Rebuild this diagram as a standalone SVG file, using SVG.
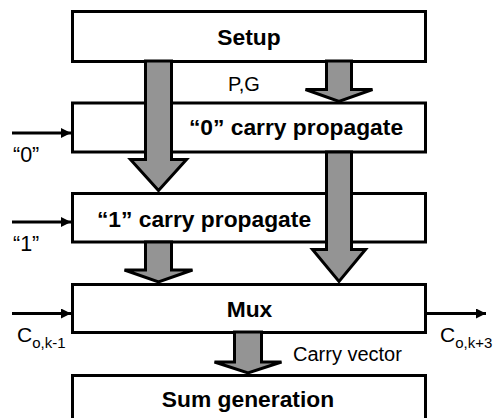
<svg xmlns="http://www.w3.org/2000/svg" width="494" height="418" viewBox="0 0 494 418">
<defs>
<style>
.box{fill:#fff;stroke:#000;stroke-width:3}
.blk{fill:#949494;stroke:#000;stroke-width:3;stroke-linejoin:miter}
.lbl{font-family:"Liberation Sans",Arial,sans-serif;font-weight:bold;font-size:22.8px;fill:#000}
.txt{font-family:"Liberation Sans",Arial,sans-serif;font-size:20px;fill:#000}
.q{font-size:21.5px}
.c{font-size:21px}
.sub{font-size:15px}
.wire{stroke:#000;stroke-width:3;fill:none}
</style>
<marker id="ah" viewBox="0 0 10 10" refX="10" refY="5" markerWidth="12" markerHeight="10" markerUnits="userSpaceOnUse" orient="auto">
<path d="M0,0 L10,5 L0,10 Z" fill="#000"/>
</marker>
</defs>
<rect width="494" height="418" fill="#fff"/>
<g id="setup">
<rect class="box" x="72.5" y="11.5" width="353" height="50"/>
<text class="lbl" x="249" y="45" text-anchor="middle">Setup</text>
</g>
<g id="carry0">
<rect class="box" x="72.5" y="103" width="353" height="49"/>
<text class="lbl" x="296" y="135" text-anchor="middle">“0” carry propagate</text>
</g>
<g id="carry1">
<rect class="box" x="72.5" y="193.5" width="353" height="48.5"/>
<text class="lbl" x="204" y="227" text-anchor="middle">“1” carry propagate</text>
</g>
<g id="mux">
<rect class="box" x="72.5" y="284.5" width="353" height="48"/>
<text class="lbl" x="249.5" y="317" text-anchor="middle">Mux</text>
</g>
<g id="sumgen">
<rect class="box" x="72.5" y="375.5" width="353" height="60"/>
<text class="lbl" x="248" y="407" text-anchor="middle">Sum generation</text>
</g>
<g id="connectors">
<polygon class="blk" points="145.5,61 171.5,61 171.5,159.5 186.5,159.5 158.5,190.5 130.5,159.5 145.5,159.5"/>
<polygon class="blk" points="326.5,61 351.5,61 351.5,89.5 372.5,89.5 339,101.5 305.5,89.5 326.5,89.5"/>
<polygon class="blk" points="326.5,152 351.5,152 351.5,249.5 365.5,249.5 339,281.5 312.5,249.5 326.5,249.5"/>
<polygon class="blk" points="145.5,242 171.5,242 171.5,270 192.5,270 158.5,282 124.5,270 145.5,270"/>
<polygon class="blk" points="234.5,332 261.5,332 261.5,362 281.5,362 248,373 214.5,362 234.5,362"/>
<line class="wire" x1="12" y1="133" x2="71" y2="133" marker-end="url(#ah)"/>
<line class="wire" x1="12" y1="222" x2="71" y2="222" marker-end="url(#ah)"/>
<line class="wire" x1="12" y1="313.5" x2="71" y2="313.5" marker-end="url(#ah)"/>
<line class="wire" x1="427" y1="313.5" x2="486" y2="313.5" marker-end="url(#ah)"/>
<text class="txt" x="228" y="91">P,G</text>
<text class="txt" x="293" y="361">Carry vector</text>
<text class="txt q" x="13" y="162">“0”</text>
<text class="txt q" x="13" y="251">“1”</text>
<text class="txt c" x="17" y="342">C<tspan class="sub" dy="6">o,k-1</tspan></text>
<text class="txt c" x="440" y="342">C<tspan class="sub" dy="6">o,k+3</tspan></text>
</g>
</svg>
